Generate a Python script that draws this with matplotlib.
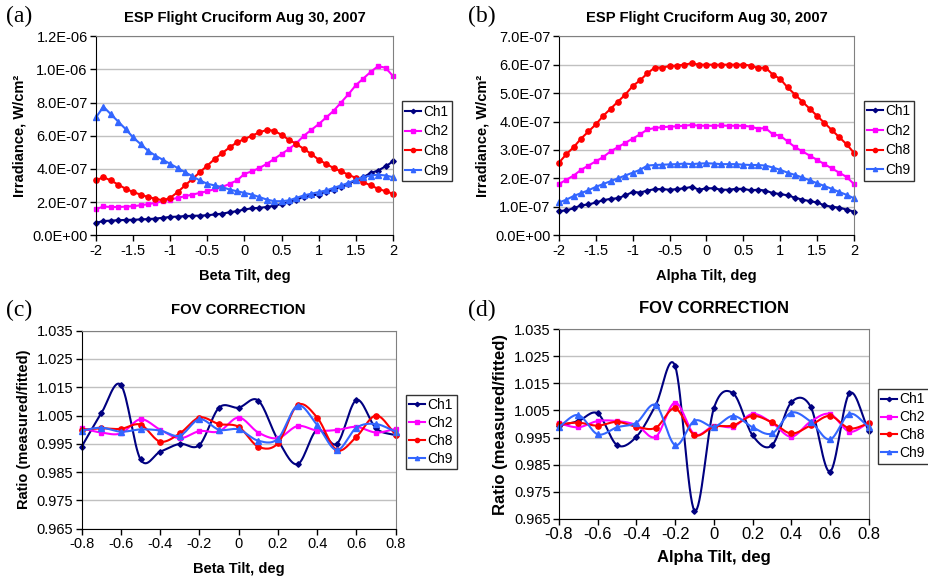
import numpy as np
import matplotlib
matplotlib.use("Agg")
import matplotlib.pyplot as plt
from matplotlib.ticker import FuncFormatter, MultipleLocator

plt.rcParams['font.family'] = ['Liberation Sans', 'DejaVu Sans']
plt.rcParams['axes.unicode_minus'] = False

# ---- data ----
tilt_wide = [round(-2 + 0.1 * i, 1) for i in range(41)]
tilt_fov = [round(-0.8 + 0.1 * i, 1) for i in range(17)]

# (a) beta tilt, irradiance in 1e-7 W/cm2
beta_ch1 = [0.75, 0.85, 0.88, 0.9, 0.92, 0.93, 0.95, 0.97, 1.0, 1.05, 1.1, 1.12, 1.15, 1.17, 1.18,
            1.2, 1.25, 1.3, 1.38, 1.45, 1.55, 1.62, 1.65, 1.7, 1.78, 1.88, 2.0, 2.15, 2.3, 2.4, 2.45,
            2.6, 2.75, 2.9, 3.1, 3.3, 3.5, 3.75, 3.9, 4.15, 4.45]
beta_ch2 = [1.57, 1.73, 1.7, 1.7, 1.72, 1.75, 1.8, 1.87, 1.95, 2.05, 2.15, 2.25, 2.35, 2.45, 2.55,
            2.65, 2.78, 2.9, 3.1, 3.3, 3.7, 3.85, 4.05, 4.3, 4.6, 4.9, 5.2, 5.55, 6.0, 6.35, 6.7,
            7.1, 7.5, 8.0, 8.5, 9.05, 9.45, 9.85, 10.2, 10.1, 9.6]
beta_ch8 = [3.3, 3.5, 3.3, 3.05, 2.8, 2.6, 2.45, 2.3, 2.2, 2.1, 2.25, 2.6, 3.0, 3.4, 3.8,
            4.2, 4.6, 4.95, 5.3, 5.6, 5.8, 6.0, 6.2, 6.35, 6.3, 6.05, 5.75, 5.5, 5.2, 4.9, 4.55,
            4.3, 4.05, 3.85, 3.65, 3.45, 3.2, 3.0, 2.8, 2.65, 2.5]
beta_ch9 = [7.1, 7.75, 7.3, 6.85, 6.4, 5.9, 5.5, 5.1, 4.8, 4.55, 4.3, 4.05, 3.8, 3.55, 3.3,
            3.1, 3.0, 2.9, 2.75, 2.65, 2.55, 2.45, 2.3, 2.15, 2.05, 2.05, 2.1, 2.25, 2.4, 2.5, 2.6,
            2.7, 2.85, 3.0, 3.15, 3.35, 3.5, 3.6, 3.65, 3.6, 3.5]

# (b) alpha tilt, irradiance in 1e-7 W/cm2
alpha_ch1 = [0.85, 0.87, 0.95, 1.05, 1.08, 1.15, 1.23, 1.28, 1.3, 1.4, 1.52, 1.5, 1.57, 1.62, 1.62,
             1.6, 1.62, 1.65, 1.7, 1.6, 1.65, 1.65, 1.6, 1.6, 1.63, 1.63, 1.58, 1.6, 1.57, 1.48, 1.45,
             1.4, 1.32, 1.25, 1.2, 1.15, 1.05, 1.0, 0.97, 0.9, 0.83]
alpha_ch2 = [1.8, 1.95, 2.1, 2.3, 2.45, 2.6, 2.75, 2.95, 3.1, 3.25, 3.4, 3.55, 3.72, 3.77, 3.8,
             3.82, 3.83, 3.85, 3.88, 3.85, 3.85, 3.85, 3.86, 3.85, 3.85, 3.85, 3.82, 3.75, 3.77, 3.55, 3.5,
             3.3, 3.1, 2.95, 2.8, 2.65, 2.5, 2.35, 2.2, 2.05, 1.8]
alpha_ch8 = [2.55, 2.85, 3.1, 3.4, 3.65, 3.9, 4.2, 4.45, 4.7, 4.95, 5.25, 5.45, 5.7, 5.9, 5.9,
             5.95, 5.97, 6.0, 6.05, 6.0, 6.0, 6.0, 6.0, 6.0, 6.0, 6.0, 5.97, 5.88, 5.9, 5.65, 5.5,
             5.2, 4.95, 4.7, 4.45, 4.2, 3.95, 3.7, 3.45, 3.2, 2.9]
alpha_ch9 = [1.15, 1.25, 1.38, 1.48, 1.58, 1.7, 1.8, 1.9, 2.0, 2.1, 2.2, 2.3, 2.45, 2.47, 2.48,
             2.49, 2.5, 2.52, 2.5, 2.52, 2.53, 2.52, 2.5, 2.5, 2.5, 2.48, 2.47, 2.47, 2.45, 2.38, 2.3,
             2.2, 2.12, 2.03, 1.93, 1.83, 1.73, 1.63, 1.52, 1.42, 1.3]

# (c) FOV correction, beta tilt
fov_beta_ch1 = [0.994, 1.0058, 1.0158, 0.9895, 0.9922, 0.995, 0.9946, 1.0078, 1.0078, 1.0103,
                0.9964, 0.9878, 1.0, 0.995, 1.0105, 1.0005, 0.998]
fov_beta_ch2 = [1.0005, 0.999, 0.9987, 1.0037, 1.0, 0.997, 0.9995, 0.9994, 1.0043, 0.999,
                0.997, 1.0013, 0.9997, 0.9999, 1.001, 0.999, 1.0003]
fov_beta_ch8 = [1.0, 1.0005, 1.0003, 1.0018, 0.9958, 0.9987, 1.0043, 1.002, 1.001, 0.994,
                0.9952, 1.0087, 1.0043, 0.9928, 0.9975, 1.005, 0.9983]
fov_beta_ch9 = [0.9997, 1.0007, 0.9993, 1.0001, 0.9997, 0.9979, 1.0037, 1.0, 1.0001, 0.9961,
                0.9968, 1.0085, 1.0017, 0.9928, 1.0007, 1.002, 0.9993]

# (d) FOV correction, alpha tilt
fov_alpha_ch1 = [0.9993, 1.0011, 1.0039, 0.9922, 0.9953, 1.007, 1.0214, 0.968, 1.0058, 1.0113,
                 0.9958, 0.9921, 1.008, 1.0064, 0.9824, 1.0113, 0.9975]
fov_alpha_ch2 = [1.0002, 0.9988, 1.0011, 1.0011, 0.9996, 0.9953, 1.0079, 0.9962, 0.9993, 0.999,
                 1.0037, 1.0005, 0.9953, 1.0009, 1.0037, 0.9972, 1.0005]
fov_alpha_ch8 = [0.9999, 1.0005, 0.9994, 1.0008, 0.999, 0.9986, 1.0058, 0.9959, 0.999, 0.9995,
                 1.003, 1.0006, 0.9965, 0.9995, 1.003, 0.9984, 1.0002]
fov_alpha_ch9 = [0.999, 1.0033, 0.9962, 0.9988, 1.0005, 1.007, 0.9922, 1.0012, 0.999, 1.003,
                 0.9988, 0.9965, 1.0042, 1.0009, 0.9943, 1.0037, 0.999]

channels = ['Ch1', 'Ch2', 'Ch8', 'Ch9']
colors = ['#000080', '#FF00FF', '#FF0000', '#3366FF']
markers = ['D', 's', 'o', '^']
msizes = [2.8, 3.5, 3.8, 3.8]


def catmull_rom(x, y, steps=16):
    # smooth line through the points, like Excel's "smoothed line"
    x = np.asarray(x, float)
    y = np.asarray(y, float)
    px = np.concatenate([[2 * x[0] - x[1]], x, [2 * x[-1] - x[-2]]])
    py = np.concatenate([[2 * y[0] - y[1]], y, [2 * y[-1] - y[-2]]])
    t = np.linspace(0, 1, steps, endpoint=False)
    xs, ys = [], []
    for i in range(1, len(px) - 2):
        for p, out in ((px, xs), (py, ys)):
            p0, p1, p2, p3 = p[i - 1], p[i], p[i + 1], p[i + 2]
            out.extend(0.5 * (2 * p1 + (-p0 + p2) * t + (2 * p0 - 5 * p1 + 4 * p2 - p3) * t ** 2
                              + (-p0 + 3 * p1 - 3 * p2 + p3) * t ** 3))
    xs.append(x[-1])
    ys.append(y[-1])
    return xs, ys


def style_axes(ax):
    ax.grid(axis='y', color='#c0c0c0', lw=1.0)
    ax.set_axisbelow(True)
    for s in ['top', 'right']:
        ax.spines[s].set_color('#808080')
    for s in ['left', 'bottom']:
        ax.spines[s].set_color('black')
    ax.tick_params(direction='out', length=4, labelsize=10.5, width=1, pad=2)


def add_legend(ax, handles, pos, fs=9.5, spacing=0.3):
    leg = ax.legend(handles, channels, loc='upper left', bbox_to_anchor=pos,
                    bbox_transform=fig.transFigure, frameon=True, fancybox=False,
                    fontsize=fs, handlelength=1.15, handletextpad=0.15, borderpad=0.25,
                    labelspacing=spacing, borderaxespad=0, markerscale=0.8)
    leg.get_frame().set_edgecolor('black')
    leg.get_frame().set_linewidth(1.0)


fig = plt.figure(figsize=(9.29, 5.85), dpi=100)

sci_fmt = FuncFormatter(lambda v, p: f"{v:.1E}")
g_fmt = FuncFormatter(lambda v, p: f"{round(v, 2):g}")
fov_fmt = FuncFormatter(lambda v, p: f"{v:.3f}")

# ---- (a) ----
ax = fig.add_axes([0.1033, 0.598, 0.3197, 0.340])
hs = []
for k, ys in enumerate([beta_ch1, beta_ch2, beta_ch8, beta_ch9]):
    h, = ax.plot(tilt_wide, np.array(ys) * 1e-7, color=colors[k], marker=markers[k],
                 ms=msizes[k], lw=1.5, clip_on=False)
    hs.append(h)
ax.set_xlim(-2, 2)
ax.set_ylim(0, 1.2e-6)
ax.yaxis.set_major_locator(MultipleLocator(2e-7))
ax.xaxis.set_major_locator(MultipleLocator(0.5))
ax.yaxis.set_major_formatter(sci_fmt)
ax.xaxis.set_major_formatter(g_fmt)
style_axes(ax)
ax.set_xlabel('Beta Tilt, deg', fontsize=10.5, fontweight='bold', labelpad=8)
ax.set_ylabel('Irradiance, W/cm²', fontsize=10.5, fontweight='bold', labelpad=4)
ax.set_title('ESP Flight Cruciform Aug 30, 2007', fontsize=10.6, fontweight='bold', pad=10)
add_legend(ax, hs, (0.4327, 0.827), fs=9.8, spacing=0.42)
fig.text(0.006, 0.972, '(a)', fontsize=17, family='Liberation Serif', va='center')

# ---- (b) ----
ax = fig.add_axes([0.6017, 0.598, 0.3175, 0.340])
hs = []
for k, ys in enumerate([alpha_ch1, alpha_ch2, alpha_ch8, alpha_ch9]):
    h, = ax.plot(tilt_wide, np.array(ys) * 1e-7, color=colors[k], marker=markers[k],
                 ms=msizes[k], lw=1.5, clip_on=False)
    hs.append(h)
ax.set_xlim(-2, 2)
ax.set_ylim(0, 7e-7)
ax.yaxis.set_major_locator(MultipleLocator(1e-7))
ax.xaxis.set_major_locator(MultipleLocator(0.5))
ax.yaxis.set_major_formatter(sci_fmt)
ax.xaxis.set_major_formatter(g_fmt)
style_axes(ax)
ax.set_xlabel('Alpha Tilt, deg', fontsize=10.5, fontweight='bold', labelpad=8)
ax.set_ylabel('Irradiance, W/cm²', fontsize=10.5, fontweight='bold', labelpad=4)
ax.set_title('ESP Flight Cruciform Aug 30, 2007', fontsize=10.6, fontweight='bold', pad=10)
add_legend(ax, hs, (0.930, 0.828), fs=9.8, spacing=0.42)
fig.text(0.504, 0.972, '(b)', fontsize=17, family='Liberation Serif', va='center')

# ---- (c) ----
ax = fig.add_axes([0.0879, 0.0962, 0.338, 0.3385])
hs = []
for k, ys in enumerate([fov_beta_ch1, fov_beta_ch2, fov_beta_ch8, fov_beta_ch9]):
    sx, sy = catmull_rom(tilt_fov, ys)
    ax.plot(sx, sy, color=colors[k], lw=1.5)
    ax.plot(tilt_fov, ys, ls='none', color=colors[k], marker=markers[k], ms=msizes[k], clip_on=False)
    h, = ax.plot([], [], color=colors[k], marker=markers[k], ms=msizes[k], lw=1.5)
    hs.append(h)
ax.set_xlim(-0.8, 0.8)
ax.set_ylim(0.965, 1.035)
ax.set_yticks(np.arange(0.965, 1.0351, 0.01))
ax.xaxis.set_major_locator(MultipleLocator(0.2))
ax.yaxis.set_major_formatter(fov_fmt)
ax.xaxis.set_major_formatter(g_fmt)
style_axes(ax)
ax.set_xlabel('Beta Tilt, deg', fontsize=10.5, fontweight='bold', labelpad=8)
ax.set_ylabel('Ratio (measured/fitted)', fontsize=10.5, fontweight='bold', labelpad=4)
ax.set_title('FOV CORRECTION', fontsize=10.7, fontweight='bold', pad=12)
add_legend(ax, hs, (0.437, 0.325), fs=10, spacing=0.28)
fig.text(0.006, 0.469, '(c)', fontsize=17, family='Liberation Serif', va='center')

# ---- (d) ----
ax = fig.add_axes([0.6017, 0.1133, 0.3334, 0.3238])
hs = []
for k, ys in enumerate([fov_alpha_ch1, fov_alpha_ch2, fov_alpha_ch8, fov_alpha_ch9]):
    sx, sy = catmull_rom(tilt_fov, ys)
    ax.plot(sx, sy, color=colors[k], lw=1.5)
    ax.plot(tilt_fov, ys, ls='none', color=colors[k], marker=markers[k], ms=msizes[k], clip_on=False)
    h, = ax.plot([], [], color=colors[k], marker=markers[k], ms=msizes[k], lw=1.5)
    hs.append(h)
ax.set_xlim(-0.8, 0.8)
ax.set_ylim(0.965, 1.035)
ax.set_yticks(np.arange(0.965, 1.0351, 0.01))
ax.xaxis.set_major_locator(MultipleLocator(0.2))
ax.yaxis.set_major_formatter(fov_fmt)
ax.xaxis.set_major_formatter(g_fmt)
style_axes(ax)
ax.tick_params(axis='x', labelsize=12)
ax.set_xlabel('Alpha Tilt, deg', fontsize=12, fontweight='bold', labelpad=6)
ax.set_ylabel('Ratio (measured/fitted)', fontsize=12, fontweight='bold', labelpad=4)
ax.set_title('FOV CORRECTION', fontsize=12, fontweight='bold', pad=12)
add_legend(ax, hs, (0.945, 0.335), fs=10, spacing=0.28)
fig.text(0.504, 0.469, '(d)', fontsize=17, family='Liberation Serif', va='center')

fig.savefig('out.png', dpi=100)
